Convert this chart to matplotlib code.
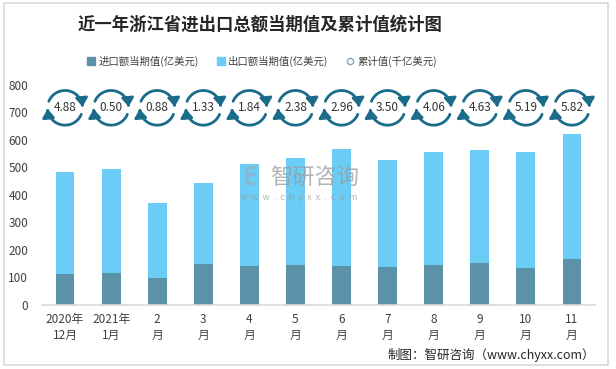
import numpy as np
import matplotlib
matplotlib.use('Agg')
import matplotlib.pyplot as plt
from matplotlib.patches import FancyArrowPatch, Rectangle
from matplotlib.path import Path
from matplotlib.lines import Line2D

plt.rcParams['font.family'] = ['Noto Sans CJK SC', 'DejaVu Sans']

# data
categories = ['2020年\n12月', '2021年\n1月', '2\n月', '3\n月', '4\n月', '5\n月',
              '6\n月', '7\n月', '8\n月', '9\n月', '10\n月', '11\n月']
imports = [114, 118, 98, 150, 142, 147, 143, 139, 146, 153, 135, 168]
totals = [485, 493, 372, 445, 511, 533, 569, 529, 558, 562, 555, 620]
exports = [t - i for t, i in zip(totals, imports)]
cumulative = [4.88, 0.50, 0.88, 1.33, 1.84, 2.38, 2.96, 3.50, 4.06, 4.63, 5.19, 5.82]

IMP_COLOR = '#5b92a8'
EXP_COLOR = '#6bcdf5'
ICON_COLOR = '#1b6b8b'
TEXT_COLOR = '#404040'
ICON_Y = 717

fig = plt.figure(figsize=(6.16, 3.69), dpi=100)
fig.patches.append(Rectangle((4 / 616, 1 - 365 / 369), 604 / 616, 362 / 369,
                             transform=fig.transFigure, fill=False,
                             edgecolor='#d9d9d9', linewidth=1.2))

ax = fig.add_axes([42 / 616, 1 - 305 / 369, 553 / 616, 220 / 369])
x = np.arange(len(categories))
ax.bar(x, imports, width=0.41, color=IMP_COLOR, zorder=2)
ax.bar(x, exports, width=0.41, bottom=imports, color=EXP_COLOR, zorder=2)

ax.set_xlim(-0.5, len(categories) - 0.5)
ax.set_ylim(0, 800)
ax.set_yticks(range(0, 801, 100))
ax.set_xticks(x)
ax.set_xticklabels(categories, linespacing=1.25)
ax.tick_params(axis='both', length=0, labelsize=8.5, labelcolor=TEXT_COLOR)
ax.tick_params(axis='y', pad=10)
ax.tick_params(axis='x', pad=6)
for s in ['top', 'right', 'left']:
    ax.spines[s].set_visible(False)
ax.spines['bottom'].set_color('#d9d9d9')
ax.spines['bottom'].set_linewidth(1.2)


def ellipse_path(cx, cy, a, b, t0, t1):
    t = np.radians(np.linspace(t0, t1, 40))
    return Path(np.column_stack([cx + a * np.cos(t), cy + b * np.sin(t)]))


# circular arrow icons holding the cumulative values
for xi, val in zip(x, cumulative):
    for t0, t1 in [(158, 4), (-22, -176)]:
        arr = FancyArrowPatch(path=ellipse_path(xi, ICON_Y, 0.38, 63, t0, t1),
                              arrowstyle='-|>,head_length=0.55,head_width=0.4',
                              mutation_scale=9, color=ICON_COLOR, linewidth=2.0,
                              transform=ax.transData, zorder=3)
        ax.add_patch(arr)
    ax.text(xi, ICON_Y, f'{val:.2f}', ha='center', va='center', fontsize=8.5,
            color='#333333', zorder=4)

# watermark
fig.text(270 / 616, 1 - 178 / 369, '智研咨询', fontsize=16, color='#9a9a9a',
         alpha=0.75, ha='left', va='center', zorder=5)
fig.text(240 / 616, 1 - 197 / 369, 'w  w  w  .  c  h  y  x  x  .  c  o  m', fontsize=6.5,
         color='#9a9a9a', alpha=0.75, ha='left', va='center', zorder=5)
fig.text(251 / 616, 1 - 178 / 369, 'E', fontsize=19, fontweight='bold',
         color='#8fb3c9', alpha=0.7, ha='center', va='center', zorder=5)

# title and legend
fig.text(260 / 616, 1 - 25 / 369, '近一年浙江省进出口总额当期值及累计值统计图',
         fontsize=12.5, fontweight='bold', color='#262626', ha='center', va='center')
handles = [
    Line2D([], [], marker='s', linestyle='none', color=IMP_COLOR, markersize=5.5),
    Line2D([], [], marker='s', linestyle='none', color=EXP_COLOR, markersize=5.5),
    Line2D([], [], marker='o', linestyle='none', markerfacecolor='white',
           markeredgecolor='#7fa9bd', markersize=4.5),
]
fig.legend(handles, ['进口额当期值(亿美元)', '出口额当期值(亿美元)', '累计值(千亿美元)'],
           loc='center', bbox_to_anchor=(262 / 616, 1 - 61 / 369), ncol=3,
           frameon=False, fontsize=7.5, handlelength=0.8, handletextpad=0.3,
           columnspacing=1.7, labelcolor=TEXT_COLOR)

fig.text(595 / 616, 1 - 355 / 369, '制图：智研咨询（www.chyxx.com）', fontsize=9,
         color='#262626', ha='right', va='center')

fig.savefig('out.png', dpi=100)
